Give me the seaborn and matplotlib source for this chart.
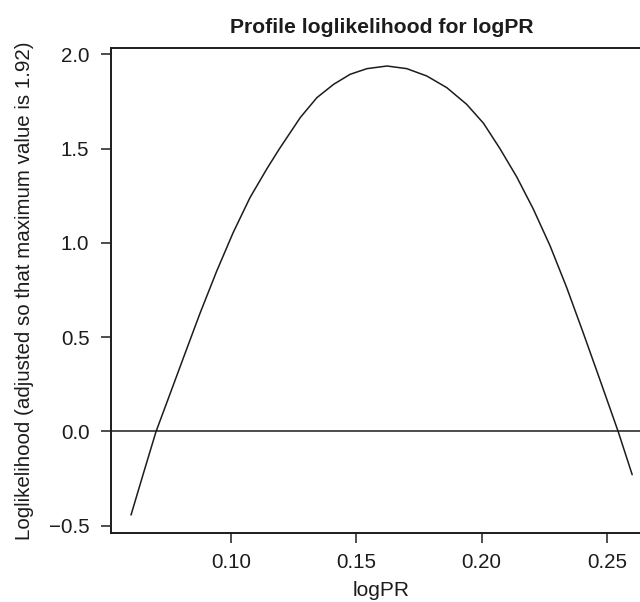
import numpy as np
import pandas as pd
import matplotlib
matplotlib.use("Agg")
import matplotlib.pyplot as plt
import seaborn as sns

# values
log_pr = [0.0600, 0.0650, 0.0700, 0.0756, 0.0809, 0.0875, 0.0942, 0.1008,
          0.1075, 0.1142, 0.1192, 0.1276, 0.1342, 0.1409, 0.1475, 0.1542,
          0.1622, 0.1701, 0.1781, 0.1861, 0.1940, 0.2007, 0.2073, 0.2140,
          0.2206, 0.2273, 0.2339, 0.2405, 0.2472, 0.2545, 0.2601]
loglik = [-0.443, -0.220, 0.000, 0.200, 0.390, 0.625, 0.850, 1.055,
          1.240, 1.392, 1.498, 1.665, 1.770, 1.841, 1.894, 1.924,
          1.938, 1.924, 1.885, 1.823, 1.735, 1.635, 1.500, 1.350,
          1.180, 0.985, 0.765, 0.525, 0.275, 0.000, -0.229]
x_ticks = [0.10, 0.15, 0.20, 0.25]
x_tick_labels = ["0.10", "0.15", "0.20", "0.25"]
y_ticks = [-0.5, 0.0, 0.5, 1.0, 1.5, 2.0]
y_tick_labels = ["\u22120.5", "0.0", "0.5", "1.0", "1.5", "2.0"]
title = "Profile loglikelihood for logPR"
x_label = "logPR"
y_label = "Loglikelihood (adjusted so that maximum value is 1.92)"

sns.set_theme(style="white")
plt.rcParams['font.family'] = ['Liberation Sans', 'DejaVu Sans']

ink = "#1c1c1c"
fig = plt.figure(figsize=(6.4, 6.02), dpi=100)
ax = fig.add_axes([0.1734, 0.1141, 0.8453, 0.8057])

df = pd.DataFrame({"logPR": log_pr, "loglik": loglik})
sns.lineplot(data=df, x="logPR", y="loglik", ax=ax, color=ink,
             linewidth=1.1, sort=False, estimator=None)
ax.axhline(0, color=ink, linewidth=1.1)

ax.set_xlim(0.052, 0.268)
ax.set_ylim(-0.540, 2.032)
ax.set_xticks(x_ticks)
ax.set_xticklabels(x_tick_labels)
ax.set_yticks(y_ticks)
ax.set_yticklabels(y_tick_labels)

for side in ["left", "bottom", "top", "right"]:
    ax.spines[side].set_color(ink)
    ax.spines[side].set_linewidth(1.4)

ax.tick_params(axis="both", which="major", direction="out", length=7,
               width=1.1, color=ink, labelsize=14.8, labelcolor=ink,
               left=True, bottom=True)
ax.tick_params(axis="x", pad=7.5)
ax.tick_params(axis="y", pad=8.5)
ax.set_xlabel(x_label, fontsize=15, color=ink, labelpad=6)
ax.set_ylabel(y_label, fontsize=14.8, color=ink, labelpad=11)
ax.set_title(title, fontsize=15.2, fontweight="bold", color=ink, pad=11,
             x=0.5)
ax.grid(False)

fig.savefig("out.png", dpi=100)
